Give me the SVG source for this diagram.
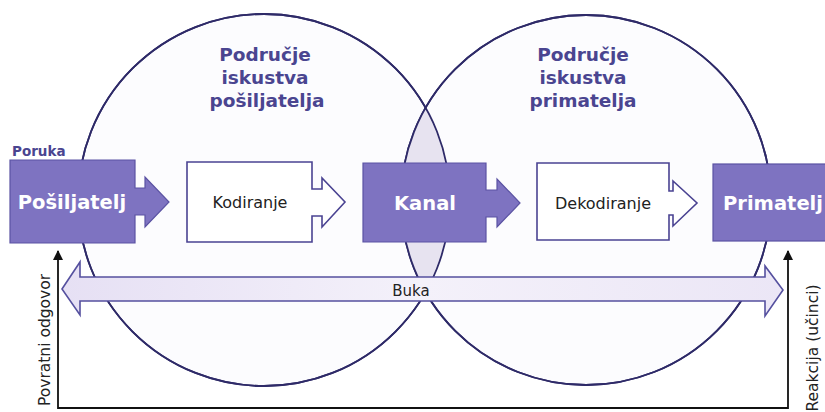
<svg xmlns="http://www.w3.org/2000/svg" width="825" height="412" viewBox="0 0 825 412">
<defs>
<style>
.circ{fill:#fcfcfe;stroke:#2e2a68;stroke-width:1.8}
.lens{fill:#e7e3f0}
.pbox{fill:#7e73c1;stroke:#5b53a3;stroke-width:1.2}
.wbox{fill:#ffffff;stroke:#4a4392;stroke-width:1.6}
.title{font-family:"DejaVu Sans",sans-serif;font-weight:bold;font-size:18.5px;fill:#4a4590;text-anchor:middle}
.wt{font-family:"DejaVu Sans",sans-serif;font-weight:bold;font-size:19.5px;fill:#ffffff;text-anchor:middle}
.dt{font-family:"DejaVu Sans",sans-serif;font-size:16px;fill:#222222;text-anchor:middle}
.fb{fill:none;stroke:#111111;stroke-width:1.8}
</style>
<marker id="ah" viewBox="0 0 10 10" refX="9" refY="5" markerWidth="10" markerHeight="10" markerUnits="userSpaceOnUse" orient="auto-start-reverse">
<path d="M0,0 L10,5 L0,10 Z" fill="#111111"/>
</marker>
<clipPath id="clipR"><circle cx="586" cy="200" r="185"/></clipPath>
<linearGradient id="bukaG" x1="0" y1="0" x2="1" y2="0">
<stop offset="0" stop-color="#e6e0f4"/>
<stop offset="0.5" stop-color="#f4f1fa"/>
<stop offset="1" stop-color="#ebe6f6"/>
</linearGradient>
</defs>
<rect width="825" height="412" fill="#ffffff"/>

<g id="field-sender">
<circle class="circ" cx="264" cy="200" r="186"/>
</g>
<g id="field-receiver">
<circle class="circ" cx="586" cy="200" r="185"/>
</g>
<g id="overlap">
<circle class="lens" cx="264" cy="200" r="185" clip-path="url(#clipR)"/>
<circle cx="264" cy="200" r="186" fill="none" stroke="#2e2a68" stroke-width="1.8"/>
<circle cx="586" cy="200" r="185" fill="none" stroke="#2e2a68" stroke-width="1.8"/>
</g>
<g id="field-sender-label">
<text class="title" x="265" y="61">Područje</text>
<text class="title" x="265" y="84">iskustva</text>
<text class="title" x="267" y="107">pošiljatelja</text>
</g>
<g id="field-receiver-label">
<text class="title" x="583" y="61">Područje</text>
<text class="title" x="583" y="84">iskustva</text>
<text class="title" x="583" y="107">primatelja</text>
</g>

<g id="posiljatelj">
<text x="12" y="156" font-family="DejaVu Sans, sans-serif" font-weight="bold" font-size="13.5" fill="#4a4590">Poruka</text>
<path class="pbox" d="M10,160 H135 V188 H145 V177 L169,202 L145,227 V215 H135 V243 H10 Z"/>
<text class="wt" x="72" y="209">Pošiljatelj</text>
</g>
<g id="kodiranje">
<path class="wbox" d="M187,162 H312 V189 H322 V178 L345,202 L322,227 V216 H312 V242 H187 Z"/>
<text class="dt" x="250" y="208">Kodiranje</text>
</g>
<g id="kanal">
<path class="pbox" d="M363,163 H486 V190 H497 V179 L520,203 L497,227 V217 H486 V242 H363 Z"/>
<text class="wt" x="425" y="210">Kanal</text>
</g>
<g id="dekodiranje">
<path class="wbox" d="M537,163 H669 V191 H673 V181 L697,203 L673,226 V215 H669 V240 H537 Z"/>
<text class="dt" x="603" y="209">Dekodiranje</text>
</g>
<g id="primatelj">
<rect class="pbox" x="713" y="164" width="120" height="77"/>
<text class="wt" x="773" y="210" font-size="19">Primatelj</text>
</g>

<g id="buka">
<path d="M62,289 L80,262 V277 H765 V266 L783,290 L765,316 V301 H80 V315 Z" fill="url(#bukaG)" stroke="#55509f" stroke-width="1.6" stroke-linejoin="miter"/>
<text x="411" y="296" font-family="DejaVu Sans, sans-serif" font-size="15" fill="#222222" text-anchor="middle">Buka</text>
</g>

<g id="connectors">
<path class="fb" d="M58,251 V408 H788 V251" marker-start="url(#ah)" marker-end="url(#ah)"/>
</g>
<g id="feedback-labels">
<text transform="translate(50,340) rotate(-90)" font-family="DejaVu Sans, sans-serif" font-size="15.5" fill="#222222" text-anchor="middle">Povratni odgovor</text>
<text transform="translate(818,348) rotate(-90)" font-family="DejaVu Sans, sans-serif" font-size="15.5" fill="#222222" text-anchor="middle">Reakcija (učinci)</text>
</g>
</svg>
